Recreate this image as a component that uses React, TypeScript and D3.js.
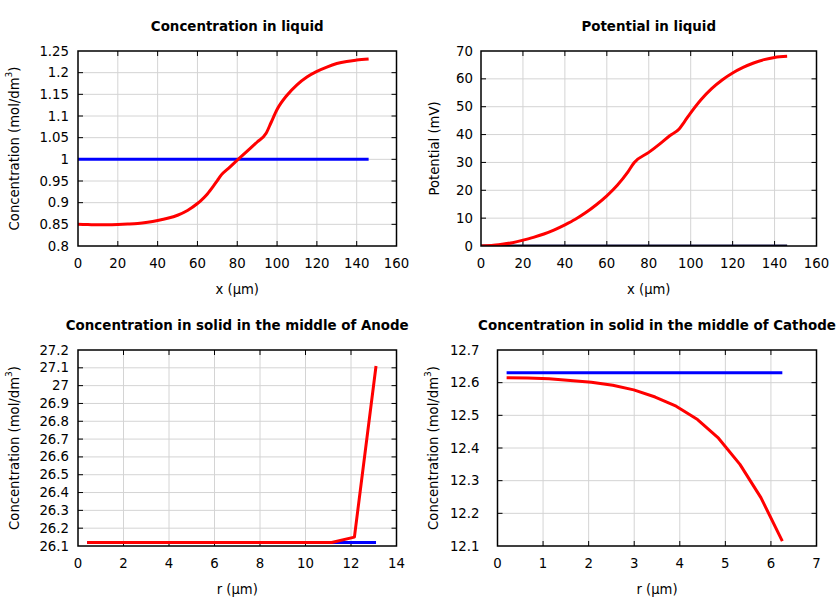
import React from "react";
import * as d3 from "d3";

// ---------- Data ----------
const liquidX = [0, 5, 10, 15, 20, 25, 30, 35, 40, 45, 50, 55, 60, 62, 65, 68, 70, 72, 76, 80, 85, 90, 94.5, 97, 100, 105, 110, 115, 120, 125, 130, 135, 140, 146];
const concLiquid = [0.85, 0.8495, 0.849, 0.849, 0.8495, 0.8505, 0.852, 0.855, 0.859, 0.864, 0.871, 0.882, 0.898, 0.906, 0.92, 0.938, 0.951, 0.964, 0.981, 0.998, 1.019, 1.04, 1.06, 1.085, 1.115, 1.148, 1.172, 1.19, 1.203, 1.213, 1.221, 1.226, 1.229, 1.2315];
const concLiquidInit = [1, 1, 1, 1, 1, 1, 1, 1, 1, 1, 1, 1, 1, 1, 1, 1, 1, 1, 1, 1, 1, 1, 1, 1, 1, 1, 1, 1, 1, 1, 1, 1, 1, 1];

const potX = [0, 5, 10, 15, 20, 25, 30, 35, 40, 45, 50, 55, 60, 65, 70, 73, 80, 85, 90, 94.5, 97, 100, 105, 110, 115, 120, 125, 130, 135, 140, 146];
const potLiquid = [0, 0.15, 0.6, 1.2, 2.1, 3.1, 4.3, 5.8, 7.6, 9.6, 12, 14.8, 18, 21.8, 26.5, 29.9, 33.6, 36.5, 39.6, 42, 44.6, 47.8, 52.6, 56.5, 59.6, 62.1, 64.1, 65.7, 66.9, 67.7, 68.1];
const potInit = [0, 0, 0, 0, 0, 0, 0, 0, 0, 0, 0, 0, 0, 0, 0, 0, 0, 0, 0, 0, 0, 0, 0, 0, 0, 0, 0, 0, 0, 0, 0];

const anodeR = [0.4, 1.38, 2.35, 3.33, 4.31, 5.28, 6.26, 7.24, 8.22, 9.19, 10.17, 11.15, 12.15, 13.1];
const anodeConc = [26.12, 26.12, 26.12, 26.12, 26.12, 26.12, 26.12, 26.12, 26.12, 26.12, 26.12, 26.12, 26.15, 27.11];
const anodeInit = [26.12, 26.12, 26.12, 26.12, 26.12, 26.12, 26.12, 26.12, 26.12, 26.12, 26.12, 26.12, 26.12, 26.12];

const cathodeR = [0.2, 0.665, 1.13, 1.596, 2.06, 2.53, 2.99, 3.46, 3.92, 4.39, 4.85, 5.32, 5.78, 6.25];
const cathodeConc = [12.615, 12.614, 12.612, 12.607, 12.601, 12.592, 12.578, 12.556, 12.528, 12.487, 12.43, 12.35, 12.248, 12.115];
const cathodeInit = [12.63, 12.63, 12.63, 12.63, 12.63, 12.63, 12.63, 12.63, 12.63, 12.63, 12.63, 12.63, 12.63, 12.63];

const xTicksLiquid = [0, 20, 40, 60, 80, 100, 120, 140, 160];
const yTicksConcLiquid = [0.8, 0.85, 0.9, 0.95, 1, 1.05, 1.1, 1.15, 1.2, 1.25];
const yTicksPot = [0, 10, 20, 30, 40, 50, 60, 70];
const xTicksAnode = [0, 2, 4, 6, 8, 10, 12, 14];
const yTicksAnode = [26.1, 26.2, 26.3, 26.4, 26.5, 26.6, 26.7, 26.8, 26.9, 27, 27.1, 27.2];
const xTicksCathode = [0, 1, 2, 3, 4, 5, 6, 7];
const yTicksCathode = [12.1, 12.2, 12.3, 12.4, 12.5, 12.6, 12.7];

const titles = [
  "Concentration in liquid",
  "Potential in liquid",
  "Concentration in solid in the middle of Anode",
  "Concentration in solid in the middle of Cathode",
];

type Series = { x: number[]; y: number[]; color: string; width: number; smooth: boolean };

type PanelProps = {
  left: number; right: number; top: number; bottom: number;
  xTicks: number[]; yTicks: number[];
  title: string; xLabel: string; yLabel: "conc" | "pot";
  series: Series[];
  yLabelX: number; tickLabelGap: number;
};

const FONT = "DejaVu Sans, sans-serif";

function fmt(v: number) {
  return String(Math.round(v * 1e6) / 1e6);
}

function Panel(p: PanelProps) {
  const x = d3.scaleLinear().domain([p.xTicks[0], p.xTicks[p.xTicks.length - 1]]).range([p.left, p.right]);
  const y = d3.scaleLinear().domain([p.yTicks[0], p.yTicks[p.yTicks.length - 1]]).range([p.bottom, p.top]);
  const tl = 5;
  const cx = (p.left + p.right) / 2;
  const cy = (p.top + p.bottom) / 2;
  const clipId = `clip-${Math.round(p.left)}-${Math.round(p.top)}`;
  return (
    <g>
      <defs>
        <clipPath id={clipId}>
          <rect x={p.left} y={p.top - 2} width={p.right - p.left} height={p.bottom - p.top + 2} />
        </clipPath>
      </defs>
      {p.xTicks.slice(1, -1).map((t) => (
        <line key={"gx" + t} x1={x(t)} x2={x(t)} y1={p.top} y2={p.bottom} stroke="#d4d4d4" strokeWidth={1} />
      ))}
      {p.yTicks.slice(1, -1).map((t) => (
        <line key={"gy" + t} x1={p.left} x2={p.right} y1={y(t)} y2={y(t)} stroke="#d4d4d4" strokeWidth={1} />
      ))}
      {p.xTicks.slice(1, -1).map((t) => (
        <g key={"tx" + t}>
          <line x1={x(t)} x2={x(t)} y1={p.bottom} y2={p.bottom - tl} stroke="#000" strokeWidth={1} />
          <line x1={x(t)} x2={x(t)} y1={p.top} y2={p.top + tl} stroke="#000" strokeWidth={1} />
        </g>
      ))}
      {p.yTicks.slice(1, -1).map((t) => (
        <g key={"ty" + t}>
          <line x1={p.left} x2={p.left + tl} y1={y(t)} y2={y(t)} stroke="#000" strokeWidth={1} />
          <line x1={p.right} x2={p.right - tl} y1={y(t)} y2={y(t)} stroke="#000" strokeWidth={1} />
        </g>
      ))}
      <g clipPath={`url(#${clipId})`}>
        {p.series.map((s, i) => {
          const pts = s.x.map((xv, j) => [xv, s.y[j]] as [number, number]);
          const gen = d3.line<[number, number]>().x((d) => x(d[0])).y((d) => y(d[1]))
            .curve(s.smooth ? d3.curveMonotoneX : d3.curveLinear);
          return <path key={i} d={gen(pts) || ""} fill="none" stroke={s.color} strokeWidth={s.width} strokeLinejoin="round" />;
        })}
      </g>
      <rect x={p.left} y={p.top} width={p.right - p.left} height={p.bottom - p.top} fill="none" stroke="#000" strokeWidth={1.5} />
      {p.xTicks.map((t) => (
        <text key={"lx" + t} x={x(t)} y={p.bottom + 22} textAnchor="middle" fontSize={13.3} fontFamily={FONT} fill="#000">{fmt(t)}</text>
      ))}
      {p.yTicks.map((t) => (
        <text key={"ly" + t} x={p.left - p.tickLabelGap} y={y(t) + 4.5} textAnchor="end" fontSize={13.3} fontFamily={FONT} fill="#000">{fmt(t)}</text>
      ))}
      <text x={cx} y={p.top - 20} textAnchor="middle" fontSize={13.4} fontWeight="bold" fontFamily={FONT} fill="#000">{p.title}</text>
      <text x={cx} y={p.bottom + 48} textAnchor="middle" fontSize={13.2} fontFamily={FONT} fill="#000">{p.xLabel}</text>
      <text transform={`translate(${p.yLabelX},${cy}) rotate(-90)`} textAnchor="middle" fontSize={13.2} fontFamily={FONT} fill="#000" dominantBaseline="central">
        {p.yLabel === "conc" ? (
          <>
            Concentration (mol/dm<tspan dy={-5} fontSize={9}>3</tspan><tspan dy={5}>)</tspan>
          </>
        ) : (
          "Potential (mV)"
        )}
      </text>
    </g>
  );
}

export default function App() {
  return (
    <svg width={840} height={600} style={{ position: "absolute", left: 0, top: 0, background: "#fff" }}>
      <rect x={0} y={0} width={840} height={600} fill="#fff" />
      <Panel
        left={78} right={396.5} top={51} bottom={246}
        xTicks={xTicksLiquid} yTicks={yTicksConcLiquid}
        title={titles[0]} xLabel="x (µm)" yLabel="conc" yLabelX={14} tickLabelGap={9}
        series={[
          { x: liquidX, y: concLiquidInit, color: "#0000ff", width: 3, smooth: false },
          { x: liquidX, y: concLiquid, color: "#ff0000", width: 3, smooth: true },
        ]}
      />
      <Panel
        left={481} right={816.5} top={51} bottom={246}
        xTicks={xTicksLiquid} yTicks={yTicksPot}
        title={titles[1]} xLabel="x (µm)" yLabel="pot" yLabelX={434} tickLabelGap={8}
        series={[
          { x: potX, y: potInit, color: "#0a0a3c", width: 3, smooth: false },
          { x: potX, y: potLiquid, color: "#ff0000", width: 3, smooth: true },
        ]}
      />
      <Panel
        left={78} right={396.5} top={350} bottom={546}
        xTicks={xTicksAnode} yTicks={yTicksAnode}
        title={titles[2]} xLabel="r (µm)" yLabel="conc" yLabelX={14} tickLabelGap={9}
        series={[
          { x: anodeR, y: anodeInit, color: "#0000ff", width: 3, smooth: false },
          { x: anodeR, y: anodeConc, color: "#ff0000", width: 3, smooth: false },
        ]}
      />
      <Panel
        left={497.5} right={816.5} top={350} bottom={546}
        xTicks={xTicksCathode} yTicks={yTicksCathode}
        title={titles[3]} xLabel="r (µm)" yLabel="conc" yLabelX={433} tickLabelGap={18}
        series={[
          { x: cathodeR, y: cathodeInit, color: "#0000ff", width: 3, smooth: false },
          { x: cathodeR, y: cathodeConc, color: "#ff0000", width: 3, smooth: false },
        ]}
      />
    </svg>
  );
}
